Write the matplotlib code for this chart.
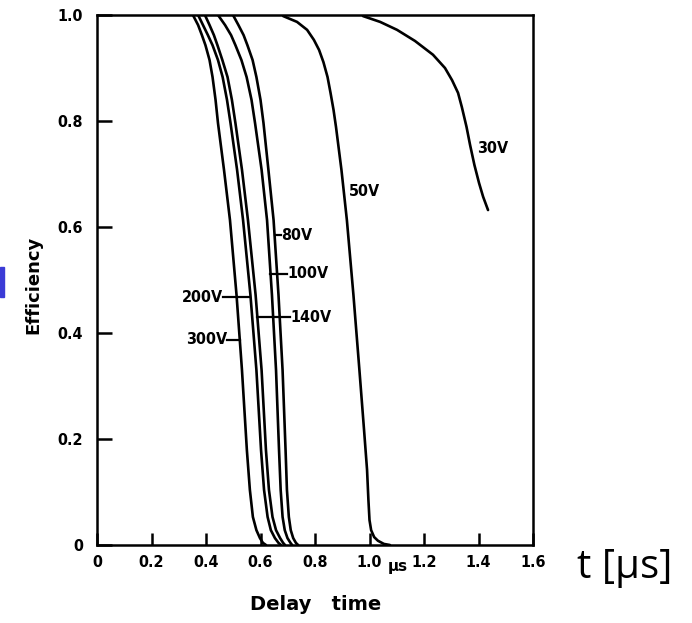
import matplotlib
matplotlib.use("Agg")
import matplotlib.pyplot as plt
from matplotlib.patches import Rectangle

FONT = "DejaVu Sans"

# ---- data (data units: delay time in us, efficiency) ----
# shared efficiency levels at which the five steep curves were read
y_steep = [1.000, 0.981, 0.962, 0.943, 0.915, 0.883, 0.840, 0.796, 0.708,
           0.613, 0.472, 0.330, 0.179, 0.104, 0.053, 0.028, 0.013, 0.004, 0.000]
x_300 = [0.352, 0.371, 0.385, 0.398, 0.413, 0.424, 0.435, 0.444, 0.466,
         0.488, 0.512, 0.532, 0.550, 0.561, 0.572, 0.585, 0.598, 0.609, 0.620]
x_200 = [0.371, 0.389, 0.407, 0.424, 0.444, 0.461, 0.477, 0.490, 0.514,
         0.536, 0.563, 0.585, 0.602, 0.613, 0.626, 0.638, 0.653, 0.666, 0.675]
x_140 = [0.396, 0.413, 0.429, 0.442, 0.460, 0.479, 0.495, 0.508, 0.532,
         0.554, 0.582, 0.604, 0.620, 0.631, 0.644, 0.657, 0.672, 0.683, 0.690]
x_100 = [0.444, 0.470, 0.492, 0.508, 0.530, 0.549, 0.567, 0.580, 0.604,
         0.624, 0.642, 0.657, 0.668, 0.674, 0.681, 0.689, 0.699, 0.710, 0.716]
x_80 = [0.499, 0.519, 0.538, 0.552, 0.571, 0.585, 0.600, 0.611, 0.629,
        0.648, 0.666, 0.681, 0.692, 0.697, 0.704, 0.711, 0.720, 0.730, 0.738]

x_50 = [0.683, 0.734, 0.771, 0.796, 0.815, 0.831, 0.846, 0.857, 0.868, 0.877, 0.897, 0.917,
        0.941, 0.963, 0.980, 0.991, 0.996, 1.000, 1.006, 1.017, 1.031, 1.053, 1.075]
y_50 = [0.998, 0.987, 0.972, 0.953, 0.934, 0.911, 0.883, 0.853, 0.821, 0.789, 0.708, 0.613,
        0.472, 0.330, 0.217, 0.142, 0.085, 0.047, 0.028, 0.015, 0.008, 0.002, 0.000]

x_30 = [0.976, 1.039, 1.101, 1.167, 1.233, 1.277, 1.303, 1.325, 1.339, 1.356,
        1.369, 1.385, 1.402, 1.417, 1.435]
y_30 = [0.998, 0.987, 0.972, 0.951, 0.925, 0.900, 0.877, 0.853, 0.826, 0.789,
        0.755, 0.717, 0.683, 0.657, 0.632]

xticks = [0, 0.2, 0.4, 0.6, 0.8, 1.0, 1.2, 1.4, 1.6]
xticklabels = ["0", "0.2", "0.4", "0.6", "0.8", "1.0", "1.2", "1.4", "1.6"]
yticks = [0, 0.2, 0.4, 0.6, 0.8, 1.0]
yticklabels = ["0", "0.2", "0.4", "0.6", "0.8", "1.0"]

W, H = 692, 623
fig = plt.figure(figsize=(W / 100, H / 100), dpi=100)
ax = fig.add_axes([97 / W, (H - 545) / H, (533 - 97) / W, (545 - 15) / H])

lw = 1.9
curves = [(x_300, y_steep), (x_200, y_steep), (x_140, y_steep), (x_100, y_steep),
          (x_80, y_steep), (x_50, y_50), (x_30, y_30)]
for xs, ys in curves:
    ax.plot(xs, ys, color="black", lw=lw, solid_capstyle="round", solid_joinstyle="round")

ax.set_xlim(0, 1.6)
ax.set_ylim(0, 1.0)
for s in ax.spines.values():
    s.set_linewidth(1.8)
ax.set_xticks(xticks)
ax.set_xticklabels(xticklabels)
ax.set_yticks(yticks)
ax.set_yticklabels(yticklabels)
for lab in ax.get_xticklabels() + ax.get_yticklabels():
    lab.set_fontfamily(FONT)
    lab.set_fontweight("bold")
    lab.set_fontstretch("condensed")
    lab.set_fontsize(11.5)
ax.tick_params(axis="x", direction="in", length=9, width=1.8, pad=7)
ax.tick_params(axis="y", direction="in", length=11, width=1.8, pad=10)

def px(x):
    return (x - 97) / 272.5

def py(y):
    return (545 - y) / 530

lab_kw = dict(family=FONT, weight="bold", size=11.5, va="center", stretch="condensed")
leaders = [
    ("80V", 275, 281, 235, "left"),
    ("100V", 270, 287, 274, "left"),
    ("140V", 257, 290, 317, "left"),
    ("200V", 223, 249, 297, "right"),
    ("300V", 227, 240, 340, "right"),
]
for text, x0, x1, yy, ha in leaders:
    ax.plot([px(x0), px(x1)], [py(yy), py(yy)], color="black", lw=1.6)
    ax.text(px(x1) if ha == "left" else px(x0), py(yy), text, ha=ha, **lab_kw)
ax.text(px(349), py(192), "50V", ha="left", **lab_kw)
ax.text(px(477), py(148), "30V", ha="left", **lab_kw)

fig.text(33 / W, 1 - 285 / H, "Efficiency", rotation=90, ha="center", va="center",
         family=FONT, weight="bold", size=13)
fig.text(316 / W, 1 - 604 / H, "Delay   time", ha="center", va="center",
         family=FONT, weight="bold", size=14)
fig.text(398 / W, 1 - 566 / H, "\u03bcs", ha="center", va="center",
         family=FONT, weight="bold", size=11)
fig.text(625 / W, 1 - 568 / H, "t [\u03bcs]", ha="center", va="center",
         family=["Open Sans", "DejaVu Sans"], size=29)

fig.patches.append(Rectangle((0, 1 - 297 / H), 4 / W, 30 / H, transform=fig.transFigure,
                             color="#3b3bd6", zorder=5))

fig.savefig("out.png", dpi=100)
